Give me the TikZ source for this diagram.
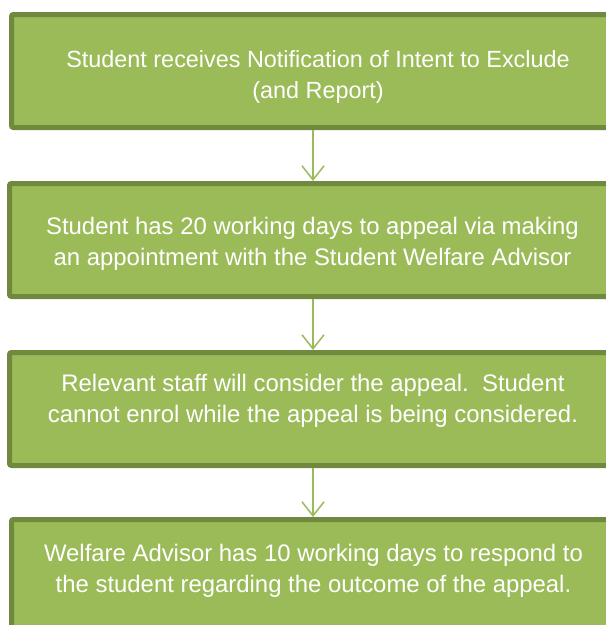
\documentclass[tikz,border=0pt]{standalone}
\usepackage{fontspec}
\setmainfont{Liberation Sans}
\usetikzlibrary{arrows.meta}
\definecolor{boxfill}{HTML}{9BBB59}
\definecolor{boxline}{HTML}{71893F}
\definecolor{arrowc}{HTML}{9BBB59}
\begin{document}
\begin{tikzpicture}[x=1pt,y=-1pt,
  stepbox/.style={draw=boxline, fill=boxfill, line width=5pt, rounded corners=2pt,
    anchor=north west, inner sep=0pt, minimum height=113pt, minimum width=640pt},
  steptext/.style={text=white, align=center, font=\fontsize{23.9}{31.5}\selectfont, inner sep=0pt},
  flow/.style={draw=arrowc, line width=1.5pt, -{Straight Barb[length=14pt,width=22pt,line width=1.5pt]}}]
\useasboundingbox (0,0) rectangle (606,625);
\clip (0,0) rectangle (606,625);
\node[stepbox] (b1) at (9,12) {};
\node[stepbox] (b2) at (7,181) {};
\node[stepbox] (b3) at (7,350) {};
\node[stepbox, minimum height=130pt] (b4) at (9,517) {};
\node[steptext, font=\fontsize{23.4}{31.5}\selectfont] (t1) at (318,77) {Student receives Notification of Intent to Exclude\\(and Report)};
\node[steptext] (t2) at (312.5,244) {Student has 20 working days to appeal via making\\an appointment with the Student Welfare Advisor};
\node[steptext] (t3) at (313,401) {Relevant staff will consider the appeal.\ \ Student\\cannot enrol while the appeal is being considered.};
\node[steptext] (t4) at (313.5,571) {Welfare Advisor has 10 working days to respond to\\the student regarding the outcome of the appeal.};
\coordinate (ax) at (313,0);
\draw[flow] (b1.south -| ax) -- (b2.north -| ax);
\draw[flow] (b2.south -| ax) -- (b3.north -| ax);
\draw[flow] (b3.south -| ax) -- (b4.north -| ax);
\end{tikzpicture}
\end{document}
